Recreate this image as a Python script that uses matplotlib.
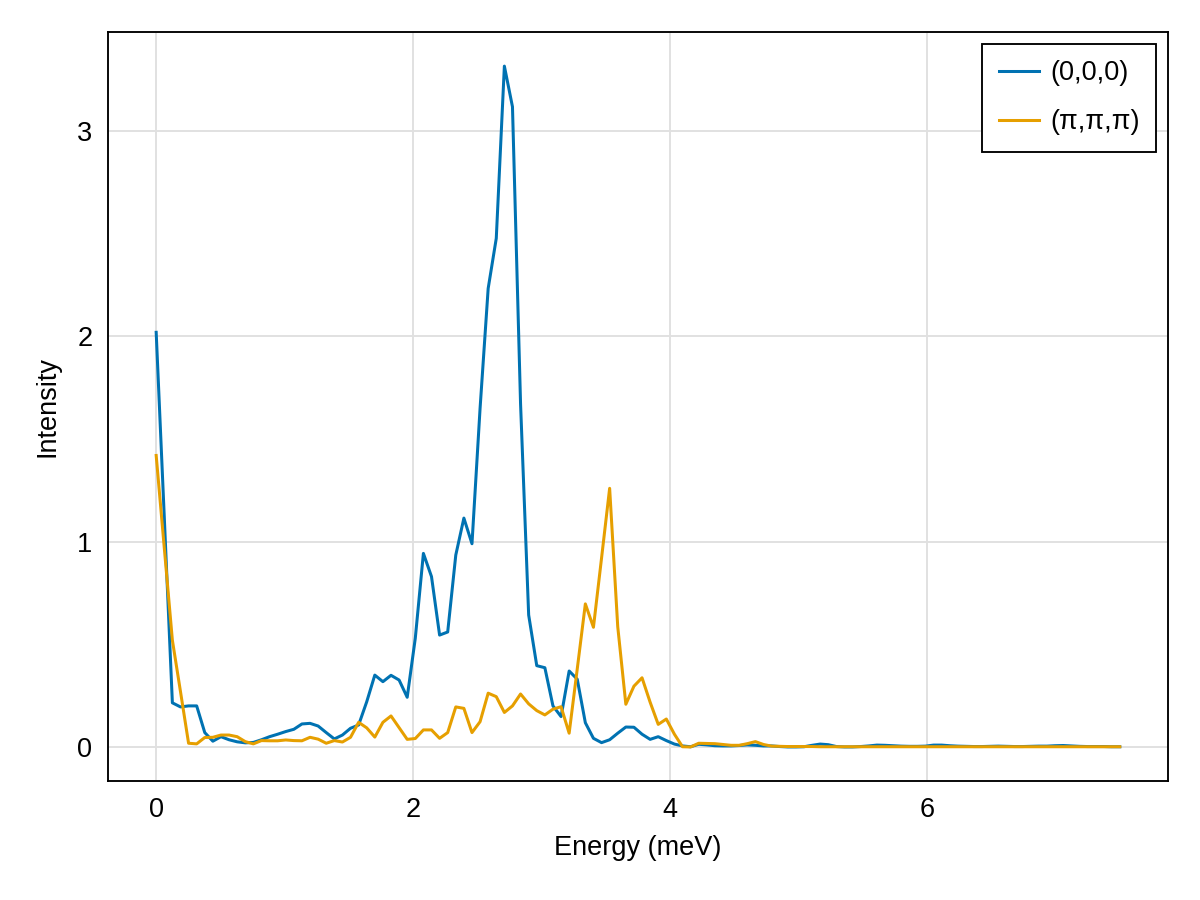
import numpy as np
import matplotlib; matplotlib.use("Agg")
import matplotlib.pyplot as plt

# energy grid (0 to 7.5 meV, 120 samples)
energy = np.linspace(0, 7.5, 120)

gamma = [2.02, 1.12, 0.215, 0.195, 0.20, 0.20, 0.07, 0.028, 0.05, 0.035,
         0.025, 0.02, 0.022, 0.035, 0.05, 0.062, 0.075, 0.086, 0.112, 0.115,
         0.102, 0.07, 0.039, 0.058, 0.091, 0.107, 0.22, 0.35, 0.318, 0.349,
         0.326, 0.242, 0.53, 0.943, 0.83, 0.545, 0.56, 0.935, 1.115, 0.99,
         1.65, 2.234, 2.478, 3.317, 3.119, 1.67, 0.643, 0.396, 0.386, 0.20,
         0.148, 0.37, 0.33, 0.118, 0.042, 0.021, 0.035, 0.067, 0.097, 0.096,
         0.062, 0.037, 0.05, 0.031, 0.014, 0.005, 0.001, 0.013, 0.01, 0.006,
         0.005, 0.005, 0.007, 0.01, 0.008, 0.005, 0.005, 0.002, 0.0, 0.0,
         0.001, 0.008, 0.014, 0.011, 0.002, 0.0, 0.0, 0.002, 0.005, 0.009,
         0.008, 0.006, 0.004, 0.003, 0.003, 0.004, 0.009, 0.009, 0.006, 0.004,
         0.003, 0.002, 0.002, 0.003, 0.004, 0.003, 0.002, 0.002, 0.003, 0.004,
         0.004, 0.006, 0.007, 0.005, 0.003, 0.002, 0.002, 0.002, 0.001, 0.001]

corner = [1.42, 0.97, 0.52, 0.27, 0.018, 0.015, 0.046, 0.047, 0.058, 0.058,
          0.05, 0.026, 0.015, 0.031, 0.03, 0.03, 0.034, 0.031, 0.03, 0.047,
          0.038, 0.018, 0.031, 0.024, 0.047, 0.12, 0.093, 0.048, 0.12, 0.151,
          0.094, 0.037, 0.041, 0.083, 0.083, 0.042, 0.07, 0.195, 0.188, 0.07,
          0.123, 0.262, 0.245, 0.168, 0.2, 0.258, 0.21, 0.177, 0.156, 0.184,
          0.196, 0.067, 0.38, 0.697, 0.583, 0.92, 1.26, 0.586, 0.208, 0.296,
          0.337, 0.218, 0.11, 0.136, 0.062, 0.001, 0.0, 0.018, 0.017, 0.016,
          0.012, 0.008, 0.008, 0.016, 0.026, 0.012, 0.004, 0.003, 0.002, 0.002,
          0.002, 0.002, 0.001, 0.001, 0.001, 0.001, 0.001, 0.001, 0.001, 0.001,
          0.001, 0.001, 0.001, 0.001, 0.001, 0.001, 0.001, 0.001, 0.001, 0.001,
          0.001, 0.001, 0.001, 0.001, 0.001, 0.001, 0.001, 0.001, 0.001, 0.001,
          0.001, 0.001, 0.001, 0.001, 0.001, 0.001, 0.001, 0.001, 0.001, 0.001]

labels = ["(0,0,0)", "(π,π,π)"]
colors = ["#0072B2", "#E69F00"]

plt.rcParams["font.family"] = ["Liberation Sans", "DejaVu Sans"]
plt.rcParams["font.size"] = 13

fig = plt.figure(figsize=(8, 6), dpi=150)
ax = fig.add_axes([0.09, 0.1322, 0.8833, 0.8322])
for y, lab, c in zip([gamma, corner], labels, colors):
    ax.plot(energy, y, color=c, lw=1.45, label=lab)

ax.set_xlim(-0.375, 7.875)
ax.set_ylim(-0.166, 3.483)
ax.set_xticks([0, 2, 4, 6])
ax.set_yticks([0, 1, 2, 3])
ax.grid(True, color="0.88", lw=0.9)
ax.set_axisbelow(True)
ax.tick_params(length=0, labelsize=13, pad=7.5)
for s in ax.spines.values():
    s.set_linewidth(0.9)
ax.set_xlabel("Energy (meV)", fontsize=13, labelpad=6)
ax.set_ylabel("Intensity", fontsize=13, labelpad=8)

leg = ax.legend(loc="upper right", fancybox=False, framealpha=1, edgecolor="black",
                handlelength=1.5, borderaxespad=0.45, borderpad=0.6, labelspacing=0.85,
                handletextpad=0.4, fontsize=13)
leg.get_frame().set_linewidth(0.9)

fig.savefig("out.png", dpi=150)
